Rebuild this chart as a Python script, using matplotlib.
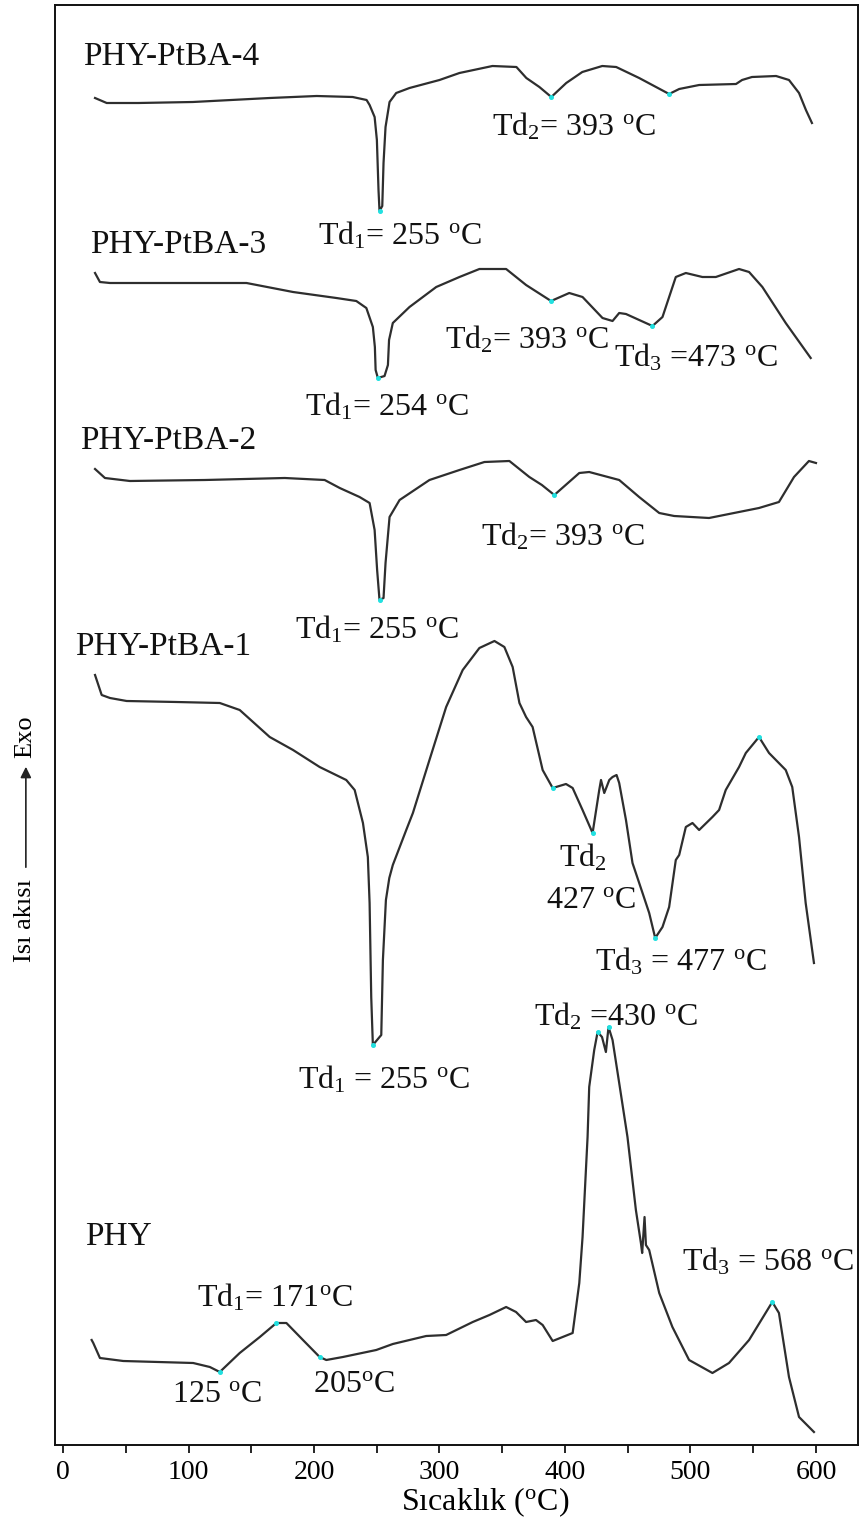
import numpy as np
import matplotlib
matplotlib.use("Agg")
import matplotlib.pyplot as plt

plt.rcParams['font.family'] = ['Liberation Serif', 'DejaVu Serif']
plt.rcParams['mathtext.fontset'] = 'custom'
plt.rcParams['mathtext.rm'] = 'Liberation Serif'
plt.rcParams['mathtext.it'] = 'Liberation Serif:italic'
plt.rcParams['mathtext.bf'] = 'Liberation Serif:bold'

# ---------------- data (temperature in degC, heat flow in arbitrary stacked units) ----------------
T_ptba4 = [25.5, 34.8, 60, 103.4, 164.7, 202.1, 230.8, 241.9, 244.3, 248.3, 250.1, 251.4, 252.2, 254.4,
           255.4, 257.0, 260.2, 265.5, 276.1, 300, 315.9, 342.2, 361.3, 369.2, 379.6, 389.1, 401, 413.8,
           429.7, 440.8, 459.1, 483, 491, 506.9, 536.3, 541.1, 549, 568.2, 578.5, 586.5, 592, 596.8]
Q_ptba4 = [1347, 1342, 1342, 1343, 1347, 1349, 1348, 1345, 1340, 1328, 1305, 1255, 1234, 1239,
           1282, 1318, 1343, 1352, 1357, 1365, 1372, 1379, 1378, 1367, 1358, 1348, 1362, 1373,
           1379, 1378, 1367, 1351, 1356, 1360, 1361, 1365, 1368, 1369, 1365, 1352, 1335, 1322]

T_ptba3 = [25.5, 29.4, 37.4, 146.2, 183.3, 217.8, 233.7, 241.7, 246.9, 248.5, 249.1, 250.9, 256.2, 258.9,
           259.8, 262.8, 276.1, 297.4, 315.9, 331.8, 353.1, 369, 388.9, 403.4, 414, 429.9, 437.9, 443.2,
           448.6, 469.7, 477.7, 488.3, 496.3, 509.5, 520.2, 538.7, 546.7, 557.3, 575.9, 595.8]
Q_ptba3 = [1172, 1163, 1162, 1162, 1153, 1147, 1144, 1137, 1118, 1098, 1075, 1067, 1069, 1080,
           1105, 1122, 1138, 1158, 1168, 1176, 1176, 1160, 1144, 1152, 1148, 1127, 1124, 1132,
           1131, 1119, 1128, 1168, 1172, 1168, 1168, 1176, 1173, 1158, 1122, 1087]

T_ptba2 = [25.5, 33.4, 53.3, 113, 176.7, 208.5, 220.5, 236.3, 244.3, 248.3, 250.3, 252.2, 255.4, 257,
           260.2, 268.2, 292, 315.9, 335.8, 355.7, 371.6, 381.6, 391.5, 411.4, 419.3, 443.2, 459.1,
           475.1, 487, 514.8, 534.7, 554.6, 570.5, 582.5, 594.4, 600]
Q_ptba2 = [976, 967, 964, 965, 967, 965, 957, 948, 942, 915, 875, 845, 847, 882,
           928, 945, 965, 975, 983, 984, 968, 960, 950, 972, 973, 965, 948,
           932, 929, 927, 932, 937, 943, 968, 984, 982]

T_ptba1 = [25.5, 30.8, 37.4, 50.7, 90.5, 124.9, 140.8, 164.7, 183.3, 204.5,
           225.7, 232.4, 239, 242.9, 244.3, 245.6, 246.9, 253.6, 254.9, 257.3,
           260, 262.8, 273.5, 278.8, 292, 305.3, 318.5, 331.8, 343.8, 351.7,
           358.3, 363.7, 369, 374.2, 382.2, 390.2, 400.8, 406.1, 414, 422,
           427.3, 428.7, 431.3, 435.3, 437.9, 441.1, 443.2, 448.6, 453.8, 461.8,
           467.1, 471.9, 477.7, 483, 488.3, 491, 496.3, 501.6, 506.9, 517.5,
           522.8, 528.1, 538.7, 544.1, 554.6, 562.6, 575.9, 581.1, 586.5, 591.8,
           598.4]
Q_ptba1 = [770, 750, 747, 744, 743, 742, 735, 708, 695, 678,
           665, 655, 622, 588, 542, 448, 400, 410, 485, 545,
           567, 580, 615, 632, 685, 738, 775, 797, 804, 798,
           778, 742, 728, 718, 675, 657, 661, 657, 635, 612,
           655, 665, 652, 665, 668, 670, 662, 625, 582, 552,
           532, 507, 518, 538, 585, 590, 618, 622, 615, 628,
           635, 655, 678, 692, 708, 692, 675, 658, 608, 542,
           482]

T_phy = [22.8, 24.1, 29.4, 48, 103.7, 117, 124.9, 140.8, 156.8, 170,
         178, 191.2, 204.5, 209.8, 223, 249.6, 262.8, 289.4, 305.3, 326.5,
         339.8, 353.1, 361, 369, 376.9, 382.2, 390.2, 406.1, 411.4, 414,
         418, 419.3, 423.3, 426, 429.5, 432.6, 434.7, 437.9, 443.2, 449.8,
         456.5, 460.5, 461.5, 463.4, 464.5, 467.1, 475.1, 485.6, 498.9, 517.5,
         530.7, 546.7, 565.2, 570.5, 578.5, 586.5, 598.4]
Q_phy = [105, 102, 87, 84, 82, 78, 73, 92, 108, 122,
         122, 105, 88, 85, 88, 95, 101, 109, 110, 123,
         130, 138, 133, 123, 125, 120, 104, 112, 162, 208,
         308, 358, 395, 413, 408, 393, 418, 405, 362, 308,
         235, 202, 192, 228, 200, 195, 152, 118, 85, 72,
         82, 105, 143, 132, 68, 28, 13]

series_names = ['PHY-PtBA-4', 'PHY-PtBA-3', 'PHY-PtBA-2', 'PHY-PtBA-1', 'PHY']
series_T = [T_ptba4, T_ptba3, T_ptba2, T_ptba1, T_phy]
series_Q = [Q_ptba4, Q_ptba3, Q_ptba2, Q_ptba1, Q_phy]

# marked (cyan) transition temperatures on each curve
marks_T = [[252.2, 389.1, 483],
           [250.9, 388.9, 469.7],
           [252.2, 391.5],
           [246.9, 390.2, 422, 471.9, 554.6],
           [124.9, 170, 204.5, 426, 434.7, 565.2]]

x_ticks = [0, 100, 200, 300, 400, 500, 600]
x_minor = [50, 150, 250, 350, 450, 550]

deg = r'$^{\mathrm{o}}$C'
annotation_texts = [
    r'Td$_1$= 255 ' + deg, r'Td$_2$= 393 ' + deg,
    r'Td$_1$= 254 ' + deg, r'Td$_2$= 393 ' + deg, r'Td$_3$ =473 ' + deg,
    r'Td$_2$= 393 ' + deg, r'Td$_1$= 255 ' + deg,
    r'Td$_2$', r'427 ' + deg, r'Td$_3$ = 477 ' + deg, r'Td$_1$ = 255 ' + deg,
    r'Td$_2$ =430 ' + deg, r'Td$_3$ = 568 ' + deg, r'Td$_1$= 171' + deg,
    r'125 ' + deg, r'205' + deg,
]
# layout (positions of text, data coordinates)
annotation_pos = [
    (202.9, 1209), (342.2, 1318),
    (192.6, 1038), (304.0, 1105), (439.2, 1087),
    (333.4, 908), (184.6, 815),
    (395.5, 587), (385.1, 545), (424.1, 483), (187.0, 365),
    (375.6, 428), (493.4, 183), (106.6, 147),
    (86.7, 50), (198.9, 60),
]
label_pos = [(15.9, 1388), (21.5, 1200), (13.5, 1004), (9.5, 798), (17.5, 208)]

# ---------------- figure ----------------
fig = plt.figure(figsize=(8.61, 15.32), dpi=100)
ax = fig.add_axes([55 / 861, 1 - 1445 / 1532, (858 - 55) / 861, (1445 - 5) / 1532])

line_color = '#2e2e2e'
for T, Q, mk in zip(series_T, series_Q, marks_T):
    ax.plot(T, Q, color=line_color, lw=1.6, solid_joinstyle='round', zorder=2)
    ax.plot(mk, np.interp(mk, T, Q), ls='none', marker='o', ms=2.6, mfc='#22e0e0',
            mec='#22e0e0', zorder=3)

for name, (x, y) in zip(series_names, label_pos):
    ax.text(x, y, name, fontsize=24, ha='left', va='center', color='#111111')

for txt, (x, y) in zip(annotation_texts, annotation_pos):
    ax.text(x, y, txt, fontsize=23, ha='left', va='center', color='#111111')

ax.set_xlim(-6.4, 633.5)
ax.set_ylim(0, 1440)
ax.set_xticks(x_ticks)
ax.set_xticks(x_minor, minor=True)
ax.set_xticklabels([str(v) for v in x_ticks], fontsize=20)
ax.tick_params(axis='x', which='both', direction='out', length=6, width=1.2, pad=5)
ax.set_yticks([])
for sp in ax.spines.values():
    sp.set_linewidth(1.4)
    sp.set_color('#111111')

ax.set_xlabel(r'Sıcaklık ($^{\mathrm{o}}$C)', fontsize=23, labelpad=2)
ax.xaxis.set_label_coords((485 - 55) / 803, -0.028, transform=ax.transAxes)
ax.xaxis.label.set_va('top')

# y label: "Isı akısı ----> Exo"
fx = 25 / 861
fig.text(fx, 1 - 962 / 1532, 'Isı akısı', rotation=90, fontsize=19, ha='center', va='bottom')
fig.text(fx, 1 - 758 / 1532, 'Exo', rotation=90, fontsize=19, ha='center', va='bottom')
ax.annotate('', xy=(fx + 0.001, 1 - 764 / 1532), xytext=(fx + 0.001, 1 - 870 / 1532),
            xycoords='figure fraction', textcoords='figure fraction',
            arrowprops=dict(arrowstyle='-|>', color='#222222', lw=1.2, mutation_scale=16))

fig.savefig('out.png', dpi=100)
